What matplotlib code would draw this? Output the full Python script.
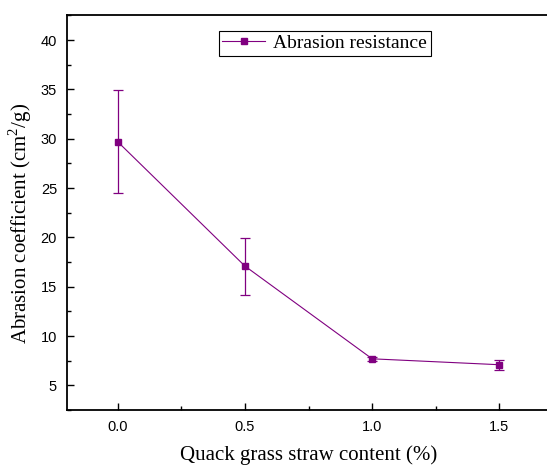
import numpy as np
import matplotlib.pyplot as plt
from matplotlib.ticker import MultipleLocator

plt.rcParams['mathtext.fontset'] = 'custom'
plt.rcParams['mathtext.rm'] = 'Liberation Serif'

# straw content (%) vs abrasion coefficient
straw_content = [0.0, 0.5, 1.0, 1.5]
abrasion = [29.7, 17.1, 7.7, 7.1]
err_low = [5.2, 2.9, 0.2, 0.5]
err_high = [5.2, 2.8, 0.2, 0.5]

purple = '#800080'

fig = plt.figure(figsize=(5.47, 4.65), dpi=100)
ax = fig.add_axes([0.122, 0.118, 0.884, 0.849])

ax.errorbar(straw_content, abrasion, yerr=[err_low, err_high], fmt='none',
            ecolor=purple, elinewidth=0.9, capsize=3.5, capthick=0.9)
ax.plot(straw_content, abrasion, color=purple, marker='s', markersize=4.5,
        linewidth=0.8, label='Abrasion resistance')

ax.set_xlim(-0.2, 1.7)
ax.set_ylim(2.5, 42.5)
ax.set_xticks([0.0, 0.5, 1.0, 1.5])
ax.set_xticklabels(['0.0', '0.5', '1.0', '1.5'])
ax.set_yticks([5, 10, 15, 20, 25, 30, 35, 40])
ax.xaxis.set_minor_locator(MultipleLocator(0.25))
ax.yaxis.set_minor_locator(MultipleLocator(2.5))
ax.tick_params(which='both', direction='in', top=False, right=False)
ax.tick_params(which='major', length=5, width=1.0, labelsize=10.5, pad=7)
ax.tick_params(which='minor', length=3, width=1.0)
for lab in ax.get_xticklabels() + ax.get_yticklabels():
    lab.set_family('Liberation Sans')

for side in ['left', 'bottom', 'top']:
    ax.spines[side].set_linewidth(1.3)

ax.set_xlabel('Quack grass straw content (%)', family='Liberation Serif',
              fontsize=15, labelpad=8)
ax.set_ylabel(r'Abrasion coefficient (cm$^{\mathrm{2}}$/g)', family='Liberation Serif',
              fontsize=15)
ax.yaxis.set_label_coords(-0.068, 0.472)

leg = ax.legend(loc='upper left', bbox_to_anchor=(0.314, 0.961), frameon=True,
                fancybox=False, edgecolor='black', framealpha=1,
                borderaxespad=0, prop={'family': 'Liberation Serif', 'size': 14},
                handlelength=2.2, borderpad=0.2, handletextpad=0.4)
leg.get_frame().set_linewidth(0.8)

plt.savefig('out.png', dpi=100)
